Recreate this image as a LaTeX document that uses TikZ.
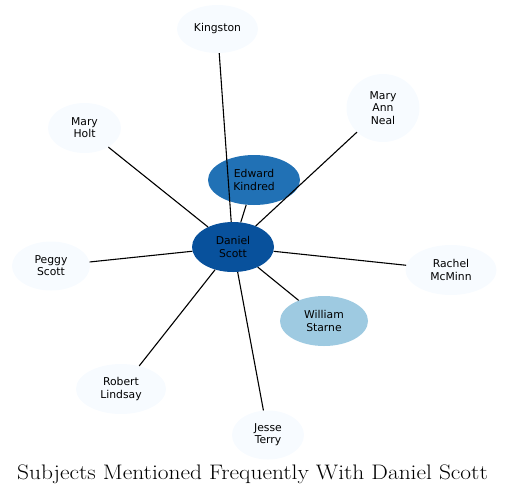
\documentclass[tikz,border=0pt]{standalone}
\usepackage{fontspec}
\newfontfamily\labelfont{DejaVu Sans}
\usepackage{tikz}
\usetikzlibrary{shapes.geometric}
\definecolor{paleblue}{HTML}{F7FBFF}
\definecolor{darkblue}{HTML}{08519C}
\definecolor{midblue}{HTML}{2171B5}
\definecolor{lightblue}{HTML}{9ECAE1}
\tikzset{
  subject/.style={ellipse, fill=paleblue, draw=none, inner sep=0pt,
                  align=center, font=\labelfont\fontsize{10.8}{12.2}\selectfont},
  focus/.style={subject, fill=darkblue},
  strong/.style={subject, fill=midblue},
  weak/.style={subject, fill=lightblue},
  link/.style={line width=1.1pt, black},
}
\begin{document}
\begin{tikzpicture}[x=1pt, y=-1pt]
    \useasboundingbox (0,0) rectangle (508,496);
    %% centre
    \node[focus, minimum width=82pt, minimum height=50pt] (daniel) at (233,247) {Daniel\\Scott};
    %% close subjects
    \node[strong, minimum width=92pt, minimum height=50pt] (edward) at (254,180) {Edward\\Kindred};
    \node[weak, minimum width=88pt, minimum height=50pt] (william) at (324,321) {William\\Starne};
    %% outer ring
    \node[subject, minimum width=81pt, minimum height=48pt] (kingston) at (217.5,29) {Kingston};
    \node[subject, minimum width=73pt, minimum height=68pt] (maryann) at (383,108) {Mary\\Ann\\Neal};
    \node[subject, minimum width=73pt, minimum height=50pt] (maryholt) at (84.5,128) {Mary\\Holt};
    \node[subject, minimum width=78pt, minimum height=49pt] (peggy) at (51,266) {Peggy\\Scott};
    \node[subject, minimum width=91pt, minimum height=50pt] (rachel) at (451,270) {Rachel\\McMinn};
    \node[subject, minimum width=90pt, minimum height=50pt] (robert) at (121,389) {Robert\\Lindsay};
    \node[subject, minimum width=72pt, minimum height=49pt] (jesse) at (268,435) {Jesse\\Terry};
    %% links
    \foreach \other in {kingston, maryann, maryholt, edward, peggy, rachel, william, robert, jesse}
      \draw[link] (daniel) -- (\other);
    %% title
    \node[font=\fontsize{21}{24}\selectfont] (title) at (252.5,474)
      {\scalebox{1.115}[1]{Subjects Mentioned Frequently With Daniel Scott}};
\end{tikzpicture}
\end{document}
